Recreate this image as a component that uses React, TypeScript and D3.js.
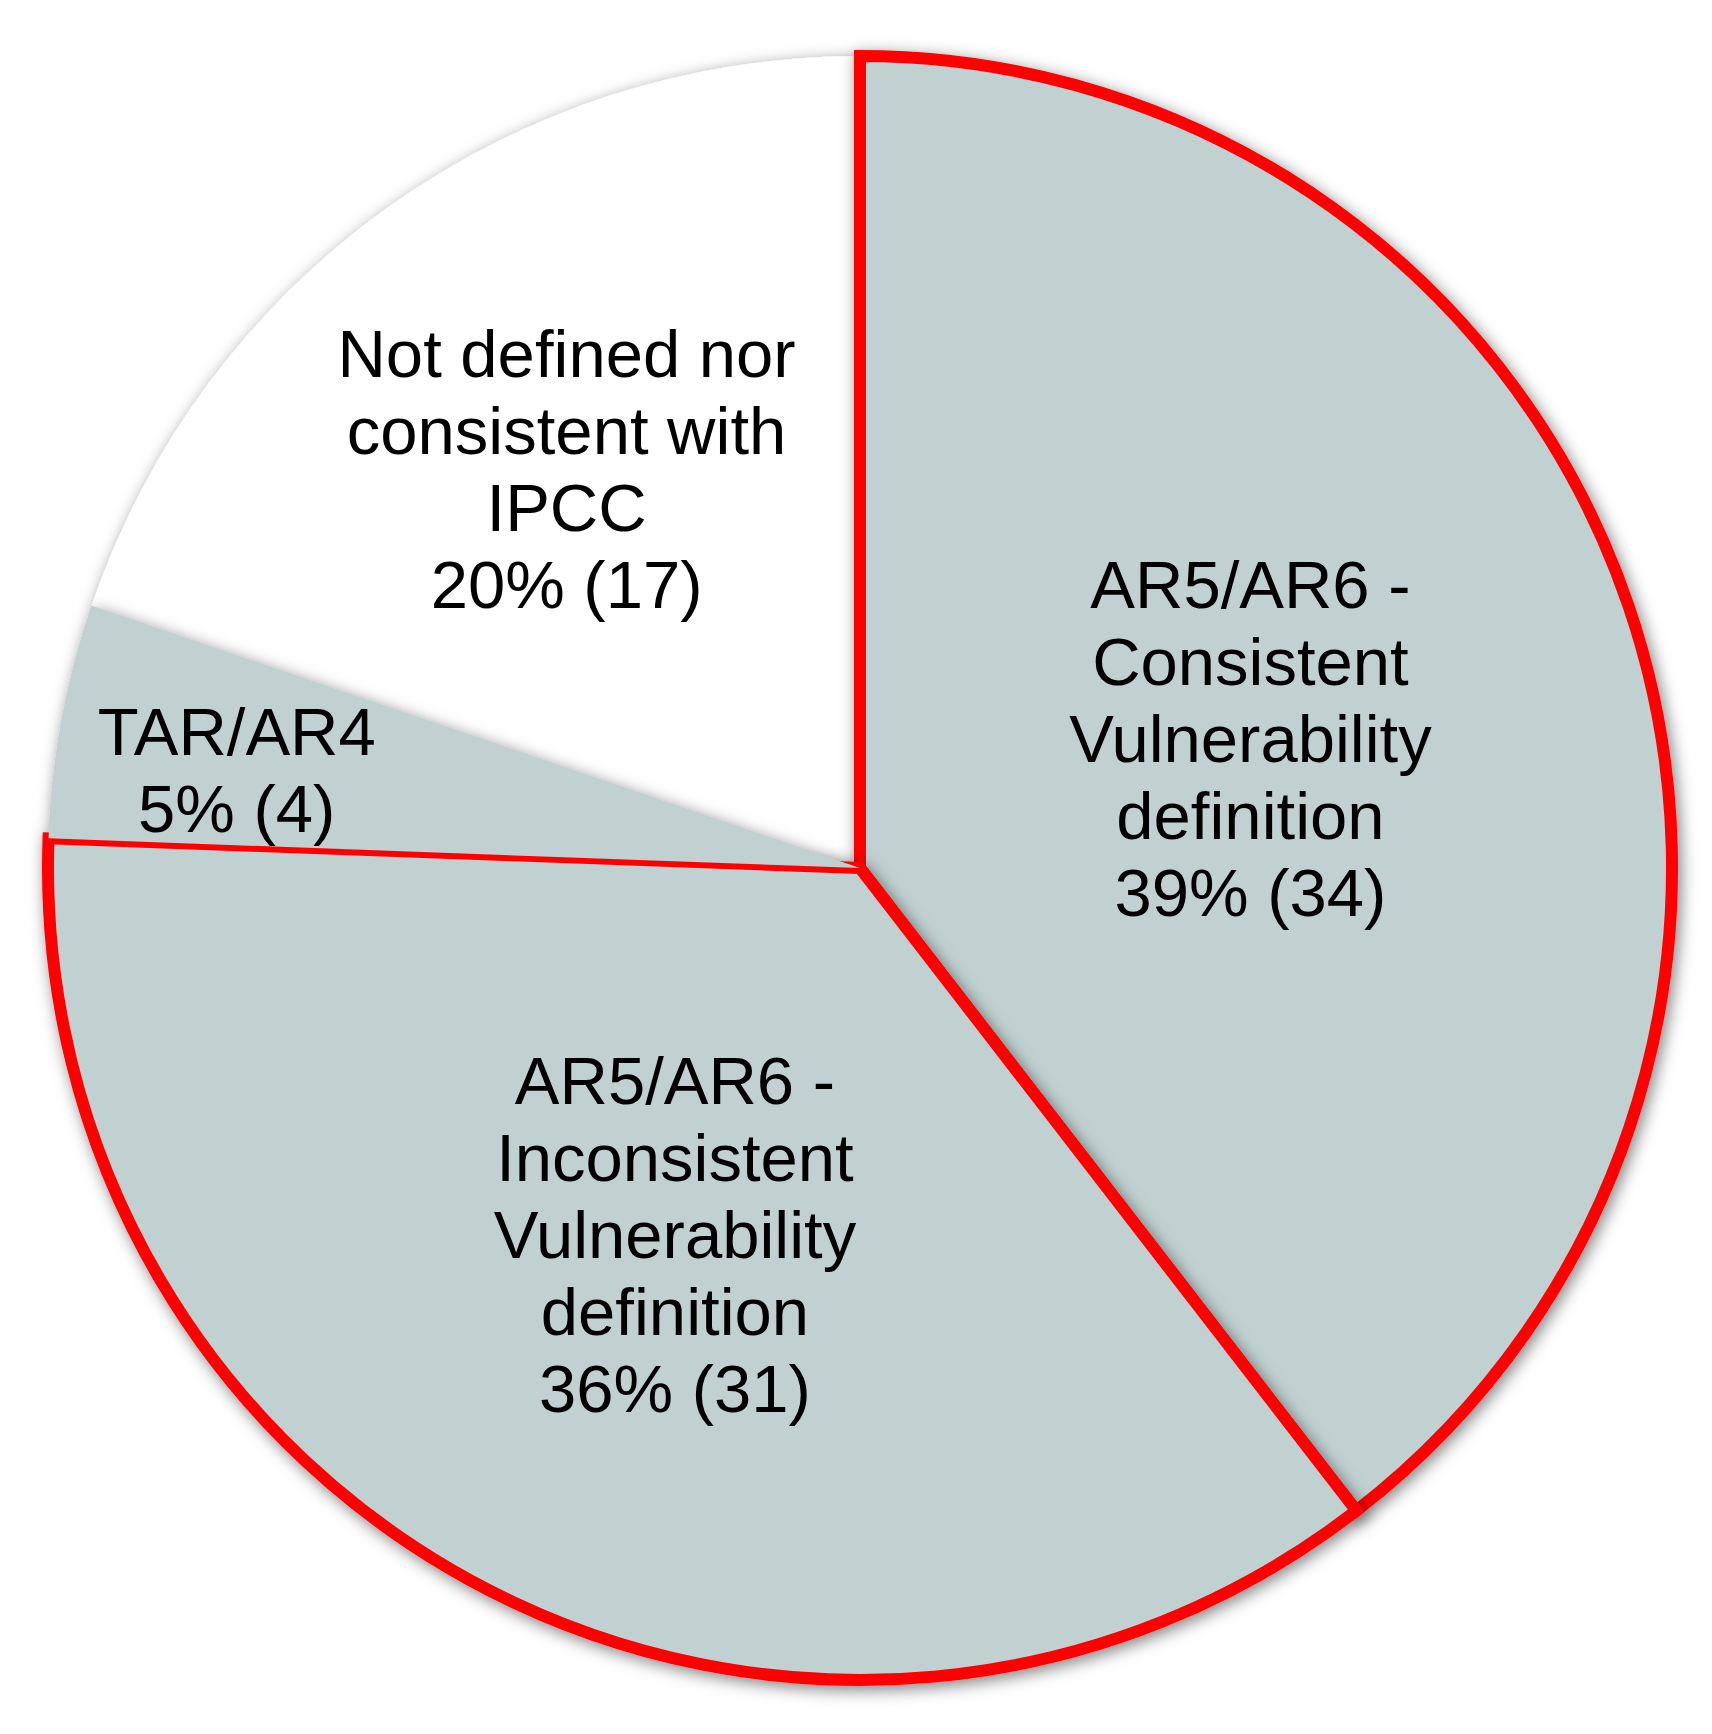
import React from "react";
import * as d3 from "d3";

// -- DATA --
const categories = [
  "AR5/AR6 - Consistent Vulnerability definition",
  "AR5/AR6 - Inconsistent Vulnerability definition",
  "TAR/AR4",
  "Not defined nor consistent with IPCC",
];
const counts = [34, 31, 4, 17];
const percentLabels = ["39%", "36%", "5%", "20%"];
const labelLines = [
  ["AR5/AR6 -", "Consistent", "Vulnerability", "definition"],
  ["AR5/AR6 -", "Inconsistent", "Vulnerability", "definition"],
  ["TAR/AR4"],
  ["Not defined nor", "consistent with", "IPCC"],
];
const sliceFills = ["#c1d1d1", "#c1d1d1", "#c1d1d1", "#ffffff"];
const sliceOutlined = [true, true, false, false];

const App = () => {
  // -- LAYOUT --
  const width = 1712;
  const height = 1734;
  const cx = 860;
  const cy = 868;
  const radius = 812;
  const fontSize = 67;
  const lineH = 77;
  // label placement: [angle shift in radians, distance from centre]
  const labelPolar = [
    [0.06, 405],
    [-0.03, 430],
    [-0.06, 628],
    [-0.04, 478],
  ];

  const pie = d3
    .pie<number>()
    .sort(null)
    .value((d) => d);
  const arcs = pie(counts);
  const arc = d3.arc<d3.PieArcDatum<number>>().innerRadius(0).outerRadius(radius);

  const slice = (i: number, withShadow: boolean, withStroke: boolean) => (
    <path
      key={`s${i}-${withShadow}-${withStroke}`}
      d={arc(arcs[i]) || ""}
      fill={sliceFills[i]}
      stroke={withStroke && sliceOutlined[i] ? "#ff0000" : "none"}
      strokeWidth={12}
      strokeLinejoin="miter"
      filter={withShadow ? "url(#shadow)" : undefined}
    />
  );

  return (
    <svg
      width={width}
      height={height}
      style={{ position: "absolute", left: 0, top: 0, background: "#ffffff" }}
    >
      <defs>
        <filter id="shadow" x="-20%" y="-20%" width="140%" height="140%">
          <feDropShadow dx="3" dy="4" stdDeviation="8" floodColor="#000" floodOpacity="0.5" />
        </filter>
      </defs>
      <g transform={`translate(${cx},${cy})`}>
        {/* white slice first, grey slices cast their shadows on it */}
        {slice(3, true, false)}
        {slice(2, true, false)}
        {slice(0, true, true)}
        {slice(1, true, true)}
        {/* TAR/AR4 redrawn on top so it hides half of the neighbouring red edge */}
        {slice(2, false, false)}
        {arcs.map((a, i) => {
          const mid = (a.startAngle + a.endAngle) / 2 + labelPolar[i][0];
          const r = labelPolar[i][1];
          const x = Math.sin(mid) * r;
          const y = -Math.cos(mid) * r;
          const lines = [...labelLines[i], `${percentLabels[i]} (${counts[i]})`];
          const y0 = y - ((lines.length - 1) * lineH) / 2 + 2;
          return (
            <text
              key={categories[i]}
              x={x}
              y={y0}
              textAnchor="middle"
              fontFamily="'Liberation Sans', Arial, sans-serif"
              fontSize={fontSize}
              fill="#000"
            >
              {lines.map((t, j) => (
                <tspan key={j} x={x} y={y0 + j * lineH}>
                  {t}
                </tspan>
              ))}
            </text>
          );
        })}
      </g>
    </svg>
  );
};

export default App;
